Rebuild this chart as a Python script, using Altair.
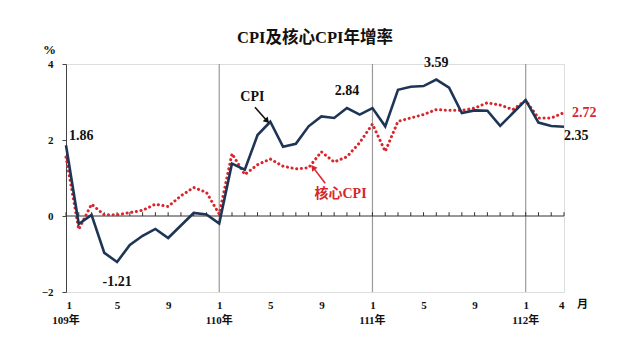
import altair as alt
import pandas as pd

# ---- data ----
month_idx = list(range(40))
cpi = [1.86, -0.21, 0.03, -0.97, -1.21, -0.76, -0.52, -0.34, -0.58, -0.25, 0.08, 0.04,
       -0.20, 1.38, 1.22, 2.13, 2.48, 1.82, 1.90, 2.36, 2.62, 2.58, 2.84, 2.67,
       2.84, 2.36, 3.32, 3.40, 3.42, 3.59, 3.38, 2.71, 2.78, 2.77, 2.37, 2.71,
       3.05, 2.46, 2.37, 2.35]
core = [1.55, -0.35, 0.31, 0.03, 0.03, 0.09, 0.15, 0.31, 0.25, 0.53, 0.75, 0.62,
        0.05, 1.64, 1.09, 1.35, 1.50, 1.31, 1.24, 1.27, 1.69, 1.42, 1.56, 1.93,
        2.42, 1.70, 2.49, 2.58, 2.67, 2.80, 2.78, 2.78, 2.84, 2.98, 2.92, 2.80,
        3.04, 2.58, 2.58, 2.72]
month_tick_vals = [0, 4, 8, 12, 16, 20, 24, 28, 32, 36, 39]
year_idx = [0, 12, 24, 36]
year_text = ["109年", "110年", "111年", "112年"]
sep_idx = [12, 24, 36]
y_ticks = [-2, 0, 2, 4]
title_text = "CPI及核心CPI年增率"

# value labels: index, value, text
lab_idx = [0, 4, 22, 29, 39]
lab_val = [1.86, -1.21, 2.84, 3.59, 2.35]
lab_txt = ["1.86", "-1.21", "2.84", "3.59", "2.35"]

W, H = 498, 228
NAVY = "#1f3556"
RED = "#d8262c"
FONT = "Liberation Serif, Noto Sans CJK TC"

df = pd.DataFrame({"i": month_idx, "cpi": cpi, "core": core})
xs = alt.Scale(domain=[0, 39], nice=False)
ys = alt.Scale(domain=[-2, 4], nice=False)

base = alt.Chart(df)

# year separators
seps = alt.Chart(pd.DataFrame({"i": sep_idx, "lo": [-2] * 3, "hi": [4] * 3})).mark_rule(
    color="#9a9a9a", strokeWidth=1.2).encode(
    x=alt.X("i:Q", scale=xs), y=alt.Y("lo:Q", scale=ys), y2="hi:Q")

# zero baseline and minor month ticks
zero = alt.Chart(pd.DataFrame({"a": [0], "b": [39], "z": [0]})).mark_rule(
    color="#333", strokeWidth=1).encode(x=alt.X("a:Q", scale=xs), x2="b:Q",
                                        y=alt.Y("z:Q", scale=ys))
ticks = alt.Chart(pd.DataFrame({"i": month_idx, "z": [0] * 40, "t": [0.1] * 40})).mark_rule(
    color="#333", strokeWidth=1).encode(x=alt.X("i:Q", scale=xs),
                                        y=alt.Y("z:Q", scale=ys), y2="t:Q")

axis_x = alt.Axis(values=month_tick_vals, labelExpr="(datum.value % 12) + 1",
                  domain=False, ticks=False, grid=False, title=None,
                  labelFont=FONT, labelFontWeight="bold", labelFontSize=11,
                  labelColor="#111", labelPadding=7)
axis_y = alt.Axis(values=y_ticks, grid=False, domainColor="#444", tickColor="#444",
                  tickSize=4, labelFont=FONT, labelFontWeight="bold", labelFontSize=11,
                  labelColor="#111", labelPadding=9, title="%", titleAngle=0,
                  titleX=-17, titleY=-8, titleAlign="center", titleFont=FONT,
                  titleFontSize=13, titleFontWeight="bold", titleColor="#111")

core_line = base.mark_line(color=RED, strokeWidth=3, strokeDash=[0.1, 4.6],
                           strokeCap="round").encode(
    x=alt.X("i:Q", scale=xs, axis=axis_x), y=alt.Y("core:Q", scale=ys, axis=axis_y))
cpi_line = base.mark_line(color=NAVY, strokeWidth=2.6).encode(
    x=alt.X("i:Q", scale=xs), y=alt.Y("cpi:Q", scale=ys))

ldf = pd.DataFrame({"i": lab_idx, "v": lab_val, "t": lab_txt})
common = dict(font=FONT, fontWeight="bold", fontSize=14, color="#111")
lab_186 = alt.Chart(ldf.iloc[[0]]).mark_text(align="left", dx=3, dy=-9, **common).encode(
    x=alt.X("i:Q", scale=xs), y=alt.Y("v:Q", scale=ys), text="t:N")
lab_121 = alt.Chart(ldf.iloc[[1]]).mark_text(align="center", dy=20, **common).encode(
    x=alt.X("i:Q", scale=xs), y=alt.Y("v:Q", scale=ys), text="t:N")
lab_top = alt.Chart(ldf.iloc[[2, 3]]).mark_text(align="center", dy=-17, **common).encode(
    x=alt.X("i:Q", scale=xs), y=alt.Y("v:Q", scale=ys), text="t:N")
lab_235 = alt.Chart(ldf.iloc[[4]]).mark_text(align="left", dx=0, dy=9, **common).encode(
    x=alt.X("i:Q", scale=xs), y=alt.Y("v:Q", scale=ys), text="t:N")
lab_272 = alt.Chart(pd.DataFrame({"i": [39], "v": [2.72], "t": ["2.72"]})).mark_text(
    align="left", dx=8, dy=0, font=FONT, fontWeight="bold", fontSize=14, color=RED).encode(
    x=alt.X("i:Q", scale=xs), y=alt.Y("v:Q", scale=ys), text="t:N")

# series annotations with arrows (data coordinates)
ann = pd.DataFrame({"i": [14.6, 21.5], "v": [3.12, 0.58], "t": ["CPI", "核心CPI"],
                    "c": ["#111", RED]})
ann_text = alt.Chart(ann).mark_text(font=FONT, fontWeight="bold", fontSize=14).encode(
    x=alt.X("i:Q", scale=xs), y=alt.Y("v:Q", scale=ys), text="t:N",
    color=alt.Color("c:N", scale=None))
arr = pd.DataFrame({"x1": [14.8, 20.3], "y1": [2.86, 0.86], "x2": [15.75, 19.35],
                    "y2": [2.50, 1.28], "ang": [137, 323], "c": ["#111", RED]})
arr_line = alt.Chart(arr).mark_rule(strokeWidth=1.6).encode(
    x=alt.X("x1:Q", scale=xs), y=alt.Y("y1:Q", scale=ys), x2="x2:Q", y2="y2:Q",
    color=alt.Color("c:N", scale=None))
arr_head = alt.Chart(arr).mark_point(shape="triangle-up", filled=True, size=45, opacity=1).encode(
    x=alt.X("x2:Q", scale=xs), y=alt.Y("y2:Q", scale=ys), angle=alt.Angle("ang:Q", scale=None),
    color=alt.Color("c:N", scale=None))

# year labels under month labels, and unit "月"
yr = alt.Chart(pd.DataFrame({"i": year_idx, "t": year_text})).mark_text(
    font=FONT, fontWeight="bold", fontSize=11, color="#111", baseline="middle").encode(
    x=alt.X("i:Q", scale=xs), y=alt.value(H + 29), text="t:N")
unit = alt.Chart(pd.DataFrame({"i": [40.45], "t": ["月"]})).mark_text(
    font=FONT, fontWeight="bold", fontSize=11, color="#111", baseline="middle").encode(
    x=alt.X("i:Q", scale=xs), y=alt.value(H + 13), text="t:N")

# chart title as text above the plot
title = alt.Chart(pd.DataFrame({"t": [title_text]})).mark_text(
    font=FONT, fontWeight="bold", fontSize=16.5, color="#111", baseline="middle",
    align="center").encode(x=alt.value(W / 2), y=alt.value(-26), text="t:N")

chart = alt.layer(seps, zero, ticks, core_line, cpi_line, lab_186, lab_121, lab_top,
                  lab_235, lab_272, arr_line, arr_head, ann_text, yr, unit, title).properties(
    width=W, height=H,
    autosize=alt.AutoSizeParams(type="none"),
    padding={"left": 66, "top": 64, "right": 76, "bottom": 68},
).configure_view(stroke=None).configure(background="white")

chart.save("out.html", embed_options={"renderer": "svg", "actions": False})
